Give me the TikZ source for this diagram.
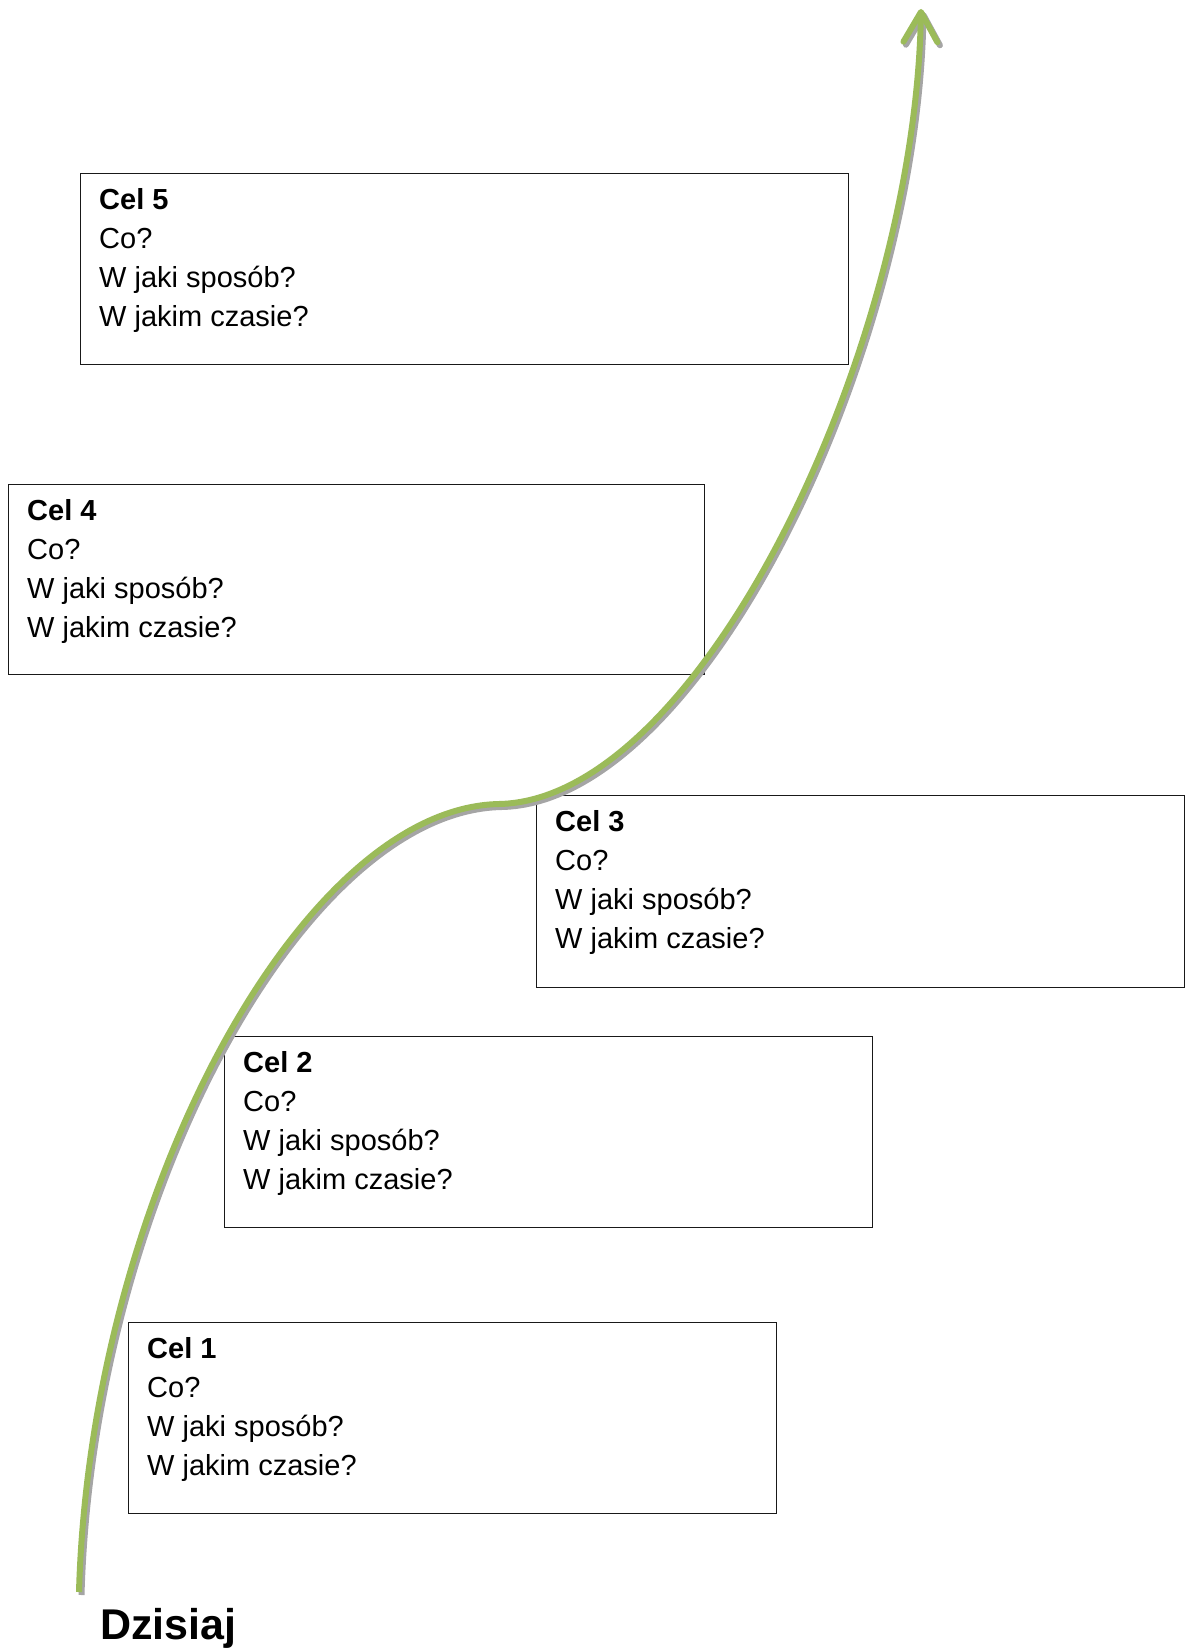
\documentclass[tikz,border=0pt]{standalone}
\usepackage{fontspec}
\setmainfont{Liberation Sans}
\usetikzlibrary{arrows.meta, positioning}

\definecolor{pathgreen}{HTML}{9BBB59}
\definecolor{pathshadow}{HTML}{A5A5A5}

\begin{document}
\begin{tikzpicture}[x=1pt, y=-1pt,
    goal/.style={draw=black!90, line width=1.2pt, anchor=north west, inner sep=0pt},
    goaltext/.style={align=left, inner sep=0pt, font=\fontsize{29}{39}\selectfont},
    road/.style={line width=6pt, -{Straight Barb[length=30pt, width=34pt, round]}}]
    \useasboundingbox (0,0) rectangle (1184,1648);
        \node[goal, minimum width=768pt, minimum height=191pt](cel5) at (80,173){};
        \node[goaltext](txt5)[below right=15pt and 19pt of cel5.north west]{\textbf{Cel 5}\\Co?\\W jaki sposób?\\W jakim czasie?};
        \node[goal, minimum width=696pt, minimum height=190pt](cel4) at (8,484){};
        \node[goaltext](txt4)[below right=15pt and 19pt of cel4.north west]{\textbf{Cel 4}\\Co?\\W jaki sposób?\\W jakim czasie?};
        \node[goal, minimum width=648pt, minimum height=192pt](cel3) at (536,795){};
        \node[goaltext](txt3)[below right=15pt and 19pt of cel3.north west]{\textbf{Cel 3}\\Co?\\W jaki sposób?\\W jakim czasie?};
        \node[goal, minimum width=648pt, minimum height=191pt](cel2) at (224,1036){};
        \node[goaltext](txt2)[below right=15pt and 19pt of cel2.north west]{\textbf{Cel 2}\\Co?\\W jaki sposób?\\W jakim czasie?};
        \node[goal, minimum width=648pt, minimum height=191pt](cel1) at (128,1322){};
        \node[goaltext](txt1)[below right=15pt and 19pt of cel1.north west]{\textbf{Cel 1}\\Co?\\W jaki sposób?\\W jakim czasie?};
        \node[anchor=base west, inner sep=0pt, font=\bfseries\fontsize{43}{50}\selectfont](today) at (100,1639){Dzisiaj};
        % the road up
        \coordinate (start) at (79,1592);
        \coordinate (flat) at (499,804);
        \coordinate (goalend) at (921,9);
        \draw[road, pathshadow, transform canvas={shift={(2.5pt,-3pt)}}]
            (start) .. controls (90,1200) and (300,808) .. (flat)
            .. controls (700,800) and (915,350) .. (goalend);
        \draw[road, pathgreen]
            (start) .. controls (90,1200) and (300,808) .. (flat)
            .. controls (700,800) and (915,350) .. (goalend);
    \end{tikzpicture}
\end{document}
